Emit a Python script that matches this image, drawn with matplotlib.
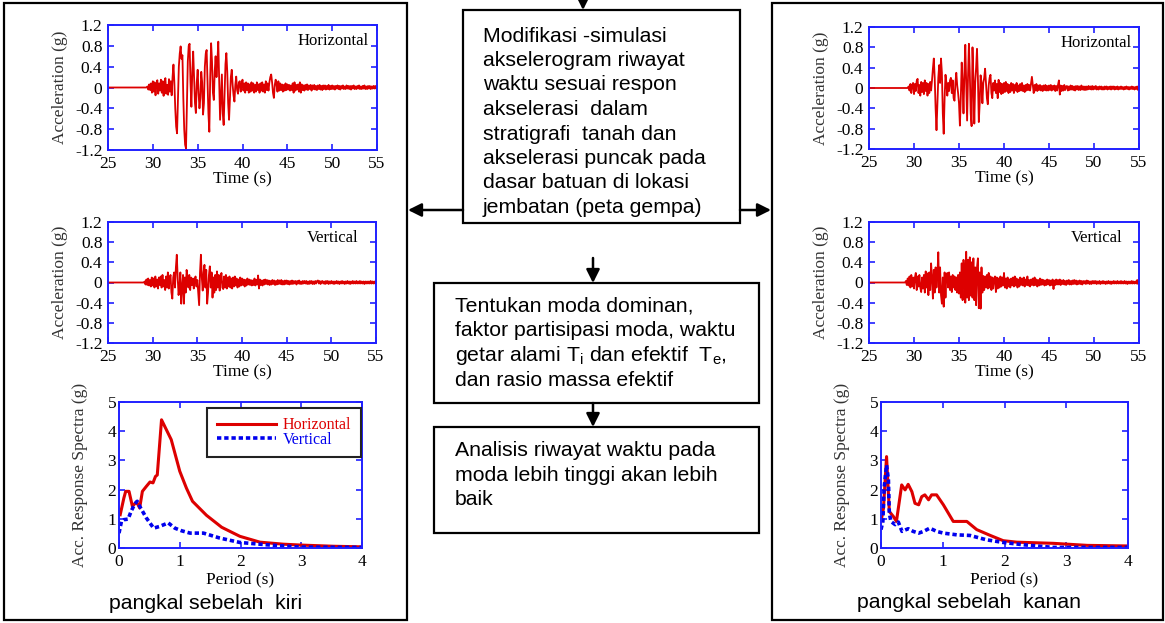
### Flowchart with accelerograms and response spectra (left / right abutment)

### IMPORTING LIBRARIES ###
import numpy as np
import matplotlib
matplotlib.use("Agg")
import matplotlib.pyplot as plt
from matplotlib.patches import Rectangle

plt.rcParams['axes.unicode_minus'] = False

### DATA ###
# accelerograms: samples every 0.1 s starting at 29.0 s (flat zero before that)
acc_t_first = 25.0
acc_t0 = 29.0
acc_dt = 0.1

acc_left_h = [
    0.00, 0.00, 0.00, 0.00, 0.02, -0.04, 0.06, -0.05, 0.08, -0.10,
    0.12, -0.08, 0.10, -0.15, 0.05, 0.14, -0.12, 0.08, -0.06, 0.15,
    -0.10, 0.12, -0.16, 0.10, 0.18, -0.12, 0.05, -0.14, 0.16, -0.08,
    0.12, -0.15, 0.20, 0.44, 0.10, -0.40, -0.75, -0.88, -0.20, 0.40,
    0.65, 0.79, 0.55, 0.62, -0.20, -0.80, -1.10, -1.17, -0.30, 0.50,
    0.80, 0.84, 0.10, -0.37, 0.30, 0.69, 0.20, -0.30, -0.49, 0.10,
    0.34, -0.10, -0.40, -0.20, 0.30, 0.10, -0.52, -0.30, 0.40, 0.65,
    0.72, 0.10, -0.50, -0.85, 0.20, 0.85, 0.50, -0.10, -0.24, 0.30,
    0.60, 0.20, 0.50, 0.88, 0.10, -0.62, -0.20, 0.25, -0.50, -0.72,
    -0.10, 0.45, 0.66, 0.30, -0.30, -0.62, -0.20, 0.20, 0.34, 0.05,
    -0.15, -0.27, 0.05, 0.21, -0.05, -0.12, 0.10, 0.12, -0.08, 0.06,
    0.15, -0.06, 0.08, -0.10, 0.10, -0.05, 0.08, -0.10, 0.06, -0.08,
    0.10, -0.06, 0.08, -0.10, 0.05, -0.08, 0.10, -0.05, 0.06, -0.10,
    0.08, -0.06, 0.10, -0.08, 0.06, -0.10, 0.12, -0.05, 0.08, -0.06,
    0.10, 0.20, 0.25, 0.10, -0.10, -0.20, 0.05, 0.15, 0.05, -0.08,
    0.12, -0.06, 0.08, -0.05, 0.06, -0.08, 0.05, -0.06, 0.08, -0.05,
    0.06, -0.04, 0.05, -0.06, 0.04, -0.05, 0.08, -0.10, 0.10, -0.06,
    0.05, -0.04, 0.06, -0.08, 0.10, -0.10, 0.06, -0.05, 0.04, -0.06,
    0.05, -0.04, 0.06, -0.05, 0.04, -0.03, 0.05, -0.06, 0.04, -0.03,
    0.05, -0.04, 0.03, -0.05, 0.04, -0.03, 0.05, -0.04, 0.03, -0.05,
    0.04, -0.03, 0.04, -0.04, 0.03, -0.03, 0.05, -0.04, 0.03, -0.03,
    0.04, -0.03, 0.03, -0.04, 0.03, -0.02, 0.04, -0.03, 0.03, -0.04,
    0.03, -0.02, 0.04, -0.03, 0.02, -0.03, 0.04, -0.02, 0.03, -0.03,
    0.03, -0.04, 0.03, -0.02, 0.04, -0.03, 0.02, -0.03, 0.03, -0.02,
    0.04, -0.03, 0.02, -0.03, 0.03, -0.02, 0.04, -0.03, 0.02, -0.03,
    0.03, -0.02, 0.03, -0.03, 0.02, -0.02, 0.03, -0.02, 0.03, -0.02,
    0.02]

acc_left_v = [
    0.00, 0.02, -0.04, 0.06, -0.05, 0.08, -0.06, 0.05, -0.08, 0.10,
    -0.06, 0.08, -0.10, 0.12, -0.08, 0.06, -0.12, 0.10, -0.05, 0.12,
    -0.10, 0.15, -0.08, 0.05, -0.15, 0.12, -0.10, 0.20, -0.12, 0.08,
    0.15, -0.20, -0.32, 0.10, 0.20, -0.10, 0.30, 0.55, 0.10, -0.25,
    -0.10, 0.20, -0.42, -0.10, 0.15, -0.42, 0.10, -0.20, 0.25, 0.10,
    -0.10, 0.15, -0.15, 0.10, -0.05, 0.08, -0.12, 0.05, 0.12, -0.08,
    0.05, -0.20, -0.45, 0.20, 0.55, 0.10, -0.16, 0.20, 0.35, -0.10,
    0.25, -0.42, -0.20, 0.15, 0.32, -0.10, 0.20, -0.30, 0.10, -0.20,
    0.15, -0.15, 0.22, -0.10, 0.15, -0.16, 0.08, 0.19, -0.10, -0.13,
    0.12, -0.10, 0.15, -0.12, 0.10, -0.08, 0.12, -0.10, 0.08, -0.12,
    0.10, -0.08, 0.12, -0.06, 0.08, -0.10, 0.06, -0.08, 0.10, -0.06,
    0.08, -0.05, 0.06, -0.08, 0.05, -0.06, 0.08, -0.04, 0.06, -0.05,
    0.05, -0.06, 0.04, -0.05, 0.08, -0.06, 0.05, -0.04, 0.14, -0.12,
    0.06, -0.05, 0.04, -0.06, 0.05, -0.04, 0.06, -0.03, 0.05, -0.04,
    0.04, -0.05, 0.03, -0.04, 0.05, -0.03, 0.04, -0.05, 0.03, -0.04,
    0.05, -0.03, 0.04, -0.03, 0.05, -0.04, 0.03, -0.04, 0.04, -0.03,
    0.04, -0.03, 0.03, -0.04, 0.03, -0.03, 0.04, -0.03, 0.03, -0.02,
    0.03, -0.04, 0.03, -0.02, 0.04, -0.03, 0.02, -0.03, 0.03, -0.02,
    0.03, -0.02, 0.03, -0.03, 0.02, -0.03, 0.03, -0.02, 0.03, -0.03,
    0.02, -0.03, 0.03, -0.02, 0.03, 0.04, -0.02, 0.03, -0.03, 0.02,
    0.03, -0.02, 0.02, -0.03, 0.03, -0.02, 0.03, -0.03, 0.02, -0.02,
    0.03, -0.02, 0.02, -0.03, 0.02, -0.02, 0.03, -0.02, 0.02, -0.03,
    0.02, -0.02, 0.03, -0.02, 0.02, -0.03, 0.02, -0.02, 0.03, -0.02,
    0.02, -0.03, 0.02, -0.02, 0.03, -0.02, 0.02, -0.02, 0.03, -0.02,
    0.02, -0.02, 0.03, -0.02, 0.02, -0.02, 0.02, -0.03, 0.02, -0.02,
    0.02, -0.02, 0.02, -0.02, 0.03, -0.02, 0.02, -0.02, 0.02, -0.02,
    0.02]

acc_right_h = [
    0.00, 0.00, 0.00, 0.00, 0.03, -0.05, 0.08, -0.10, 0.06, 0.10,
    -0.12, 0.08, -0.06, 0.14, 0.18, -0.10, 0.06, -0.15, 0.12, -0.08,
    0.10, -0.12, 0.15, -0.06, 0.10, -0.15, 0.08, -0.10, 0.12, -0.05,
    0.15, 0.38, 0.58, 0.20, -0.40, -0.83, -0.30, 0.20, 0.45, 0.10,
    0.58, 0.30, -0.50, -0.90, -0.20, 0.26, 0.10, -0.15, 0.10, -0.06,
    0.15, 0.20, -0.10, 0.15, -0.20, -0.25, 0.10, 0.30, 0.05, -0.10,
    -0.30, -0.74, -0.20, 0.50, 0.10, -0.50, 0.30, 0.85, 0.10, -0.64,
    0.20, 0.87, 0.30, -0.50, -0.75, 0.80, 0.20, -0.70, 0.10, 0.40,
    0.77, 0.20, -0.67, -0.30, 0.25, 0.10, -0.30, 0.10, 0.20, 0.38,
    0.10, -0.20, -0.32, 0.05, 0.20, 0.26, -0.10, -0.20, 0.10, -0.05,
    0.15, -0.10, 0.08, -0.20, 0.16, -0.08, 0.10, -0.12, 0.08, -0.10,
    0.10, -0.08, 0.12, -0.06, 0.08, -0.10, 0.06, -0.08, 0.10, -0.05,
    0.08, -0.10, 0.06, -0.05, 0.10, -0.08, 0.05, -0.06, 0.08, -0.05,
    0.10, -0.06, 0.05, -0.08, 0.06, -0.05, 0.08, -0.04, 0.06, -0.05,
    0.08, 0.22, 0.05, -0.10, 0.06, -0.05, 0.08, -0.06, 0.05, -0.04,
    0.06, -0.05, 0.04, -0.06, 0.05, -0.04, 0.06, -0.05, 0.04, -0.05,
    0.05, -0.04, 0.06, -0.05, 0.04, -0.03, 0.05, -0.06, 0.04, -0.05,
    0.06, 0.15, -0.13, 0.05, -0.06, 0.04, -0.05, 0.06, -0.04, 0.03,
    0.04, -0.05, 0.03, -0.04, 0.05, -0.03, 0.04, -0.04, 0.03, -0.05,
    0.04, -0.03, 0.04, -0.04, 0.03, -0.04, 0.05, -0.03, 0.03, -0.04,
    0.03, -0.04, 0.03, -0.03, 0.04, -0.02, 0.03, -0.03, 0.04, -0.03,
    0.03, -0.02, 0.04, -0.03, 0.02, -0.03, 0.03, -0.02, 0.03, -0.03,
    0.02, -0.03, 0.03, -0.02, 0.03, -0.03, 0.02, -0.02, 0.03, -0.03,
    0.03, -0.02, 0.03, -0.03, 0.02, -0.02, 0.03, -0.03, 0.02, -0.02,
    0.03, -0.02, 0.02, -0.03, 0.02, -0.02, 0.03, -0.02, 0.02, -0.03,
    0.02, -0.02, 0.03, -0.02, 0.02, -0.03, 0.02, -0.02, 0.03, -0.04,
    -0.02]

acc_right_v = [
    0.00, 0.03, -0.05, 0.08, -0.06, 0.12, -0.10, 0.15, -0.08, 0.10,
    -0.12, 0.10, 0.19, -0.15, 0.12, -0.08, 0.15, -0.10, -0.19, 0.10,
    -0.12, 0.15, -0.20, 0.22, -0.10, 0.18, -0.25, 0.20, -0.15, 0.38,
    0.10, -0.32, 0.25, -0.20, 0.30, -0.10, 0.15, 0.60, -0.20, 0.30,
    -0.25, -0.42, 0.10, -0.48, 0.20, -0.30, 0.15, 0.19, -0.10, 0.20,
    -0.15, 0.12, -0.19, 0.15, -0.10, 0.12, -0.15, 0.10, -0.20, 0.15,
    -0.22, 0.20, -0.30, 0.38, -0.35, 0.45, 0.20, -0.40, 0.61, -0.30,
    0.45, -0.35, 0.50, -0.26, 0.40, -0.30, 0.48, -0.35, 0.30, -0.45,
    0.30, 0.48, -0.51, 0.20, -0.52, 0.30, -0.20, 0.13, -0.15, 0.12,
    -0.10, 0.15, -0.12, 0.19, -0.10, 0.12, -0.15, 0.10, -0.12, 0.08,
    0.12, -0.19, 0.10, -0.12, 0.08, -0.10, 0.12, -0.08, 0.10, -0.06,
    0.19, -0.10, 0.08, -0.12, 0.10, -0.08, 0.06, -0.10, 0.08, -0.06,
    0.10, -0.08, 0.12, -0.06, 0.08, -0.10, 0.06, -0.08, 0.10, -0.05,
    0.08, -0.06, 0.10, -0.08, 0.06, -0.05, 0.12, -0.06, 0.05, -0.08,
    0.06, -0.05, 0.08, -0.06, 0.10, -0.05, 0.06, -0.08, 0.05, -0.06,
    0.08, -0.05, 0.06, -0.04, 0.05, -0.06, 0.04, -0.05, 0.06, -0.04,
    0.05, -0.06, 0.04, -0.05, 0.06, -0.13, 0.04, -0.05, 0.06, -0.04,
    0.05, -0.04, 0.06, -0.05, 0.04, -0.03, 0.05, -0.04, 0.03, -0.05,
    0.04, -0.03, 0.05, -0.04, 0.03, -0.04, 0.04, -0.03, 0.05, -0.03,
    0.04, -0.04, 0.03, -0.03, 0.04, -0.03, 0.03, -0.04, 0.03, -0.02,
    0.03, -0.03, 0.04, -0.02, 0.03, -0.03, 0.02, -0.03, 0.03, -0.02,
    0.03, -0.02, 0.03, -0.03, 0.02, -0.02, 0.03, -0.03, 0.02, -0.02,
    0.03, -0.02, 0.02, -0.03, 0.02, -0.02, 0.03, -0.02, 0.02, -0.03,
    0.02, -0.02, 0.03, -0.02, 0.02, -0.02, 0.03, -0.02, 0.02, -0.02,
    0.03, -0.02, 0.02, -0.02, 0.03, -0.02, 0.02, -0.03, 0.02, -0.02,
    0.02, -0.02, 0.03, -0.02, 0.02, -0.02, 0.02, -0.02, 0.05, -0.03,
    0.02]

# response spectra (period in s, acceleration in g)
sa_left_h_T = [0.02, 0.08, 0.11, 0.165, 0.22, 0.29, 0.34, 0.385, 0.45, 0.51, 0.56,
               0.60, 0.63, 0.70, 0.78, 0.86, 1.0, 1.11, 1.21, 1.44, 1.69, 1.99,
               2.32, 2.71, 3.0, 3.53, 4.0]
sa_left_h = [1.14, 1.71, 1.94, 1.94, 1.43, 1.58, 1.37, 1.94, 2.11, 2.26, 2.23,
             2.45, 2.50, 4.39, 4.05, 3.71, 2.63, 2.05, 1.60, 1.12, 0.71, 0.40,
             0.20, 0.13, 0.10, 0.06, 0.04]
sa_left_v_T = [0.0, 0.04, 0.08, 0.15, 0.20, 0.26, 0.30, 0.34, 0.45, 0.57, 0.67,
               0.81, 0.92, 1.03, 1.17, 1.39, 1.66, 1.99, 2.43, 2.98, 4.0]
sa_left_v = [0.51, 0.91, 0.97, 0.99, 1.26, 1.51, 1.60, 1.43, 1.03, 0.68, 0.74,
             0.86, 0.68, 0.59, 0.51, 0.51, 0.34, 0.19, 0.11, 0.03, 0.02]

sa_right_h_T = [0.0, 0.04, 0.09, 0.135, 0.20, 0.25, 0.335, 0.39, 0.44, 0.50, 0.55,
                0.61, 0.66, 0.71, 0.77, 0.82, 0.90, 1.01, 1.17, 1.39, 1.55, 1.77,
                1.98, 2.20, 2.79, 3.34, 4.0]
sa_right_h = [0.91, 1.36, 3.13, 1.25, 1.08, 0.91, 2.16, 1.99, 2.18, 1.93, 1.53,
              1.48, 1.76, 1.82, 1.65, 1.82, 1.82, 1.48, 0.91, 0.91, 0.63, 0.43,
              0.25, 0.20, 0.16, 0.09, 0.07]
sa_right_v_T = [0.0, 0.03, 0.05, 0.09, 0.12, 0.135, 0.16, 0.23, 0.28, 0.34, 0.44,
                0.52, 0.61, 0.69, 0.79, 0.90, 1.01, 1.23, 1.44, 1.71, 1.98, 2.31,
                2.79, 4.0]
sa_right_v = [0.63, 0.91, 2.05, 2.84, 2.33, 1.19, 0.91, 0.80, 0.89, 0.57, 0.66,
              0.57, 0.51, 0.57, 0.68, 0.57, 0.51, 0.45, 0.43, 0.28, 0.19, 0.11,
              0.02, 0.02]

acc_xticks = [25, 30, 35, 40, 45, 50, 55]
acc_yticks = [-1.2, -0.8, -0.4, 0, 0.4, 0.8, 1.2]
sa_xticks = [0, 1, 2, 3, 4]
sa_yticks = [0, 1, 2, 3, 4, 5]

box1_lines = ["Modifikasi -simulasi", "akselerogram riwayat", "waktu sesuai respon",
              "akselerasi  dalam", "stratigrafi  tanah dan", "akselerasi puncak pada",
              "dasar batuan di lokasi", "jembatan (peta gempa)"]
box2_lines = ["Tentukan moda dominan,", "faktor partisipasi moda, waktu",
              "getar alami T$_\\mathregular{i}$ dan efektif  T$_\\mathregular{e}$,",
              "dan rasio massa efektif"]
box3_lines = ["Analisis riwayat waktu pada", "moda lebih tinggi akan lebih", "baik"]

### STYLE ###
W, H = 1165, 623
RED = '#dd0000'
BLUE = '#0000ee'
SPINE = '#2020ff'
SERIF = 'Liberation Serif'
SANS = 'Liberation Sans'


def px_axes(fig, x0, y0, x1, y1):
    """axes from pixel box (top-left origin)"""
    return fig.add_axes([x0 / W, 1 - y1 / H, (x1 - x0) / W, (y1 - y0) / H])


def style_axes(ax):
    for s in ax.spines.values():
        s.set_color(SPINE)
        s.set_linewidth(1.4)
    ax.tick_params(direction='in', top=True, right=True, length=4, width=1.2,
                   color=SPINE, labelsize=12.5, pad=4)
    for lab in ax.get_xticklabels() + ax.get_yticklabels():
        lab.set_fontfamily(SERIF)


def trace_xy(vals):
    t = acc_t0 + acc_dt * np.arange(len(vals))
    return np.concatenate([[acc_t_first], t]), np.concatenate([[0.0], vals])


### PLOT AN ACCELEROGRAM ###
def plot_acc(ax, vals, name, name_x):
    t, a = trace_xy(vals)
    ax.plot(t, a, color=RED, lw=1.3)
    ax.set_xlim(25, 55)
    ax.set_ylim(-1.2, 1.2)
    ax.set_xticks(acc_xticks)
    ax.set_yticks(acc_yticks)
    ax.set_yticklabels([f'{v:g}' for v in acc_yticks])
    style_axes(ax)
    ax.set_xlabel('Time (s)', fontfamily=SERIF, fontsize=12.5, labelpad=0)
    ax.set_ylabel('Acceleration (g)', fontfamily=SERIF, fontsize=12.5,
                  color='#333333', labelpad=5)
    ax.text(name_x, 0.87, name, transform=ax.transAxes, ha='right', va='center',
            fontfamily=SERIF, fontsize=12)


### PLOT RESPONSE SPECTRA ###
def plot_sa(ax, th, h, tv, v, legend=False):
    ax.plot(th, h, color=RED, lw=2.2, label='Horizontal')
    ax.plot(tv, v, color=BLUE, lw=2.6, ls=(0, (1.2, 0.8)), label='Vertical')
    ax.set_xlim(0, 4)
    ax.set_ylim(0, 5)
    ax.set_xticks(sa_xticks)
    ax.set_yticks(sa_yticks)
    style_axes(ax)
    ax.tick_params(axis='y', pad=2)
    ax.set_xlabel('Period (s)', fontfamily=SERIF, fontsize=12.5, labelpad=1)
    ax.set_ylabel('Acc. Response Spectra (g)', fontfamily=SERIF, fontsize=12.5,
                  color='#333333', labelpad=14)
    if legend:
        leg = ax.legend(loc='upper right', bbox_to_anchor=(0.996, 0.96),
                        fancybox=False, edgecolor='#222222', framealpha=1,
                        prop={'family': SERIF, 'size': 11.5}, handlelength=3.7,
                        handletextpad=0.45, labelspacing=-0.1, borderpad=0.6,
                        labelcolor='linecolor', borderaxespad=0)
        leg.get_frame().set_linewidth(1.5)


### FIGURE ###
fig = plt.figure(figsize=(W / 100, H / 100), dpi=100)

# flowchart layer in pixel coordinates
bg = fig.add_axes([0, 0, 1, 1])
bg.set_xlim(0, W)
bg.set_ylim(H, 0)
bg.axis('off')


def box(x0, y0, x1, y1):
    bg.add_patch(Rectangle((x0, y0), x1 - x0, y1 - y0, fill=False,
                           edgecolor='black', lw=1.6))


def arrow(x0, y0, x1, y1):
    bg.annotate('', xy=(x1, y1), xytext=(x0, y0),
                arrowprops=dict(arrowstyle='-|>', color='black', lw=1.8,
                                mutation_scale=20, shrinkA=0, shrinkB=0))


box(4, 3, 407, 620)
box(772, 3, 1163, 620)
box(463, 10, 740, 223)
box(434, 283, 759, 403)
box(434, 427, 759, 533)

arrow(583, -6, 583, 10)
arrow(463, 210, 408, 210)
arrow(740, 210, 771, 210)
arrow(593, 258, 593, 283)
arrow(593, 403, 593, 427)
arrow(593, 533, 593, 630)

for i, line in enumerate(box1_lines):
    bg.text(483, 41.5 + 24.5 * i, line, fontfamily=SANS, fontsize=15.3, va='baseline')
for i, line in enumerate(box2_lines):
    bg.text(455, 311.5 + 24.7 * i, line, fontfamily=SANS, fontsize=15.3, va='baseline')
for i, line in enumerate(box3_lines):
    bg.text(455, 456.5 + 24.2 * i, line, fontfamily=SANS, fontsize=15.3, va='baseline')

bg.text(206, 609, 'pangkal sebelah  kiri', fontfamily=SANS, fontsize=15.3,
        ha='center', va='baseline')
bg.text(969, 608, 'pangkal sebelah  kanan', fontfamily=SANS, fontsize=15.3,
        ha='center', va='baseline')

### LEFT ABUTMENT ###
plot_acc(px_axes(fig, 108, 25, 377, 150), acc_left_h, 'Horizontal', 0.97)
plot_acc(px_axes(fig, 108, 222, 376, 343), acc_left_v, 'Vertical', 0.933)
plot_sa(px_axes(fig, 119, 402, 362, 548), sa_left_h_T, sa_left_h,
        sa_left_v_T, sa_left_v, legend=True)

### RIGHT ABUTMENT ###
plot_acc(px_axes(fig, 869, 27, 1139, 149), acc_right_h, 'Horizontal', 0.974)
plot_acc(px_axes(fig, 869, 222, 1139, 343), acc_right_v, 'Vertical', 0.937)
plot_sa(px_axes(fig, 881, 402, 1128, 548), sa_right_h_T, sa_right_h,
        sa_right_v_T, sa_right_v)

fig.savefig('out.png', dpi=100)
